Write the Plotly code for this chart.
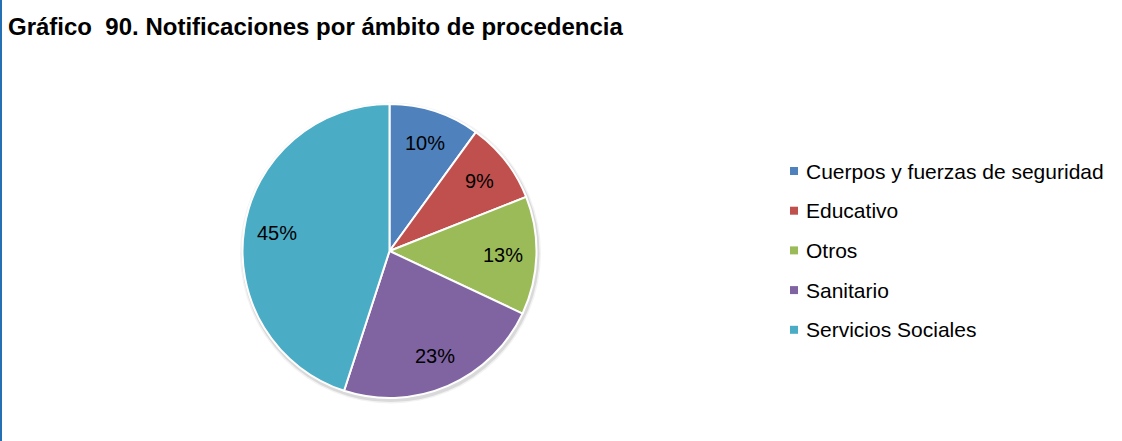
import math
import plotly.graph_objects as go

# Datos del gráfico
categorias = ["Cuerpos y fuerzas de seguridad", "Educativo", "Otros", "Sanitario", "Servicios Sociales"]
porcentajes = [10, 9, 13, 23, 45]
colores = ["#4F81BD", "#C0504D", "#9BBB59", "#8064A2", "#4BACC6"]
titulo = "Gráfico\u00a0 90. Notificaciones por ámbito de procedencia"

W, H = 1122, 441
FUENTE = "Liberation Sans, Arial, sans-serif"


def px_x(x):
    return x / W


def px_y(y):
    return 1 - y / H


# Centro y radio de la tarta, en píxeles
cx, cy, r = 389.5, 251, 147

fig = go.Figure(
    go.Pie(
        labels=categorias,
        values=porcentajes,
        sort=False,
        direction="clockwise",
        rotation=0,
        marker=dict(colors=colores, line=dict(color="white", width=2)),
        textinfo="none",
        domain=dict(x=[px_x(cx - r), px_x(cx + r)], y=[px_y(cy + r), px_y(cy - r)]),
        showlegend=False,
        hoverinfo="label+percent",
    )
)

shapes = []
annotations = []

# Sombra suave bajo la tarta
for extra, alpha in [(3.5, 0.05), (2, 0.10)]:
    shapes.append(dict(
        type="circle", xref="paper", yref="paper", layer="below",
        x0=px_x(cx + 1 - r - extra), x1=px_x(cx + 1 + r + extra),
        y0=px_y(cy + 2 + r + extra), y1=px_y(cy + 2 - r - extra),
        fillcolor=f"rgba(0,0,0,{alpha})", line=dict(width=0),
    ))

# Etiquetas de porcentaje dentro de cada sector, sobre su ángulo medio
total = sum(porcentajes)
acumulado = 0
for v in porcentajes:
    ang = math.radians(360 * (acumulado + v / 2) / total)
    acumulado += v
    rx = cx + 0.775 * r * math.sin(ang)
    ry = cy - 0.775 * r * math.cos(ang)
    annotations.append(dict(
        text=f"{round(100 * v / total)}%", xref="paper", yref="paper",
        x=px_x(rx), y=px_y(ry), xanchor="center", yanchor="middle",
        showarrow=False, font=dict(family=FUENTE, size=20, color="black"),
    ))

# Leyenda a la derecha: cuadrado de color + texto
y0_leyenda, paso = 171, 39.7
for i, (nombre, color) in enumerate(zip(categorias, colores)):
    yc = y0_leyenda + i * paso
    shapes.append(dict(
        type="rect", xref="paper", yref="paper",
        x0=px_x(790), x1=px_x(798), y0=px_y(yc + 4), y1=px_y(yc - 4),
        fillcolor=color, line=dict(width=0),
    ))
    annotations.append(dict(
        text=nombre, xref="paper", yref="paper",
        x=px_x(804), y=px_y(yc), xanchor="left", yanchor="middle",
        showarrow=False, font=dict(family=FUENTE, size=21, color="black"),
    ))

# Borde vertical azul a la izquierda
shapes.append(dict(
    type="rect", xref="paper", yref="paper",
    x0=0, x1=px_x(2), y0=0, y1=1,
    fillcolor="#2470B3", line=dict(width=0),
))

fig.update_layout(
    width=W, height=H,
    margin=dict(l=0, r=0, t=0, b=0),
    paper_bgcolor="white", plot_bgcolor="white",
    title=dict(
        text="<b>" + titulo + "</b>",
        x=px_x(8), xanchor="left", xref="paper",
        y=px_y(27), yanchor="middle", yref="container",
        font=dict(family=FUENTE, size=24, color="black"),
    ),
    shapes=shapes,
    annotations=annotations,
)

fig.write_html("out.html")
